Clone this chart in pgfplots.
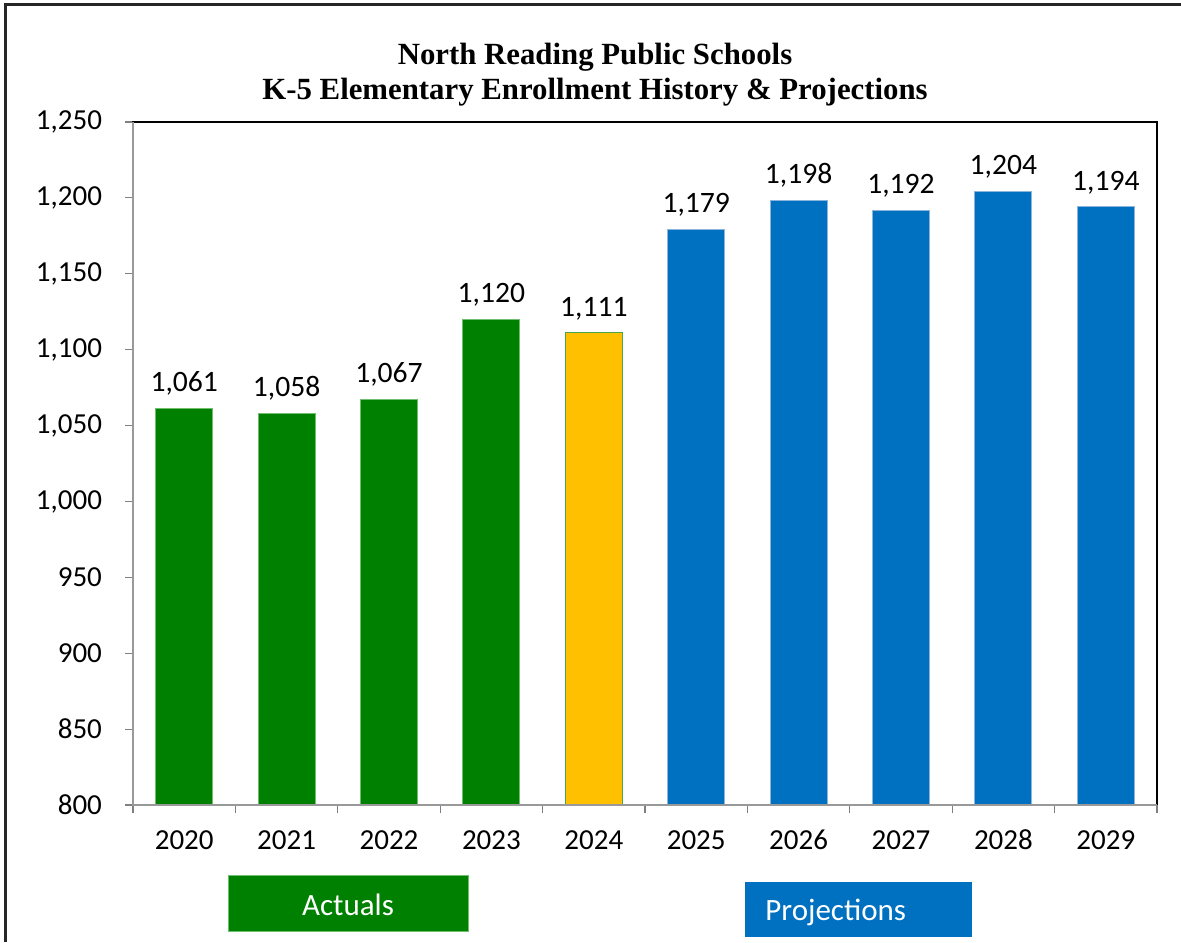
\documentclass[border=0pt]{standalone}
\usepackage{pgfplots}
\pgfplotsset{compat=1.18}
\usepackage{fontspec}
\setmainfont{Carlito}
\newfontfamily\titlefont{Liberation Serif}

\definecolor{actgreen}{RGB}{0,128,0}
\definecolor{actedge}{RGB}{110,190,110}
\definecolor{curyellow}{RGB}{255,192,0}
\definecolor{projblue}{RGB}{0,112,192}
\definecolor{projedge}{RGB}{140,180,220}

\begin{document}
\begin{tikzpicture}
\useasboundingbox (0pt,0pt) rectangle (590.5pt,471pt);
% outer frame (left and top only, picture is cropped)
\draw[line width=1.5pt, black!85] (2.5pt,0pt) -- (2.5pt,468.5pt) -- (590.5pt,468.5pt);

\begin{axis}[
	at={(66.5pt,68.5pt)}, anchor=south west,
	scale only axis, width=512pt, height=341.5pt,
	xmin=-0.5, xmax=9.5,
	ymin=800, ymax=1250,
	ytick={800,850,...,1250},
	xtick={0,...,9},
	xticklabels={2020,2021,2022,2023,2024,2025,2026,2027,2028,2029},
	ybar, bar width=0.557,
	tick align=outside, xtick pos=bottom, ytick pos=left,
	major tick length=4pt,
	xtick style={draw=none},
	extra x ticks={-0.5,0.5,...,9.5},
	extra x tick labels={},
	extra x tick style={xtick style={draw=gray, line width=0.6pt}},
	ytick style={draw=gray, line width=0.6pt},
	tick label style={font=\fontsize{14.5}{17}\selectfont},
	yticklabel style={xshift=-8pt},
	xticklabel style={yshift=-5pt, text height=9.5pt, text depth=0pt},
	/pgf/number format/assume math mode=true,
	/pgf/number format/1000 sep={,},
	scaled y ticks=false,
	nodes near coords,
	nodes near coords style={font=\fontsize{14.8}{17}\selectfont, black, yshift=3pt},
	axis line style={black, line width=0.6pt},
	clip mode=individual]

	% actuals
	\addplot[fill=actgreen, draw=actedge, line width=0.5pt, bar shift=0pt] coordinates {
		(0,1061) (1,1058) (2,1067) (3,1120)};
	% current year
	\addplot[fill=curyellow, draw=actgreen!70, line width=0.5pt, bar shift=0pt] coordinates {
		(4,1111)};
	% projections
	\addplot[fill=projblue, draw=projedge, line width=0.5pt, bar shift=0pt] coordinates {
		(5,1179) (6,1198) (7,1192) (8,1204) (9,1194)};

	\draw[gray!80, line width=0.6pt] (rel axis cs:0,1) -- (rel axis cs:0,0) -- (rel axis cs:1,0);
\end{axis}

% title
\node[anchor=base, font=\titlefont\bfseries\fontsize{15.4}{18}\selectfont] at (297.5pt,438.5pt) {North Reading Public Schools};
\node[anchor=base, font=\titlefont\bfseries\fontsize{15.4}{18}\selectfont] at (297.5pt,421pt) {K-5 Elementary Enrollment History \& Projections};

% group boxes
\filldraw[fill=actgreen, draw=actedge, line width=0.5pt] (114pt,5.5pt) rectangle (234pt,33.5pt);
\node[anchor=base, white, font=\fontsize{15.5}{18}\selectfont] at (174pt,13.5pt) {Actuals};
\fill[projblue] (372.5pt,2.5pt) rectangle (486pt,30pt);
\node[anchor=base west, inner sep=0pt, white, font=\fontsize{15.5}{18}\selectfont] at (382.5pt,11pt) {Projections};
\end{tikzpicture}
\end{document}
